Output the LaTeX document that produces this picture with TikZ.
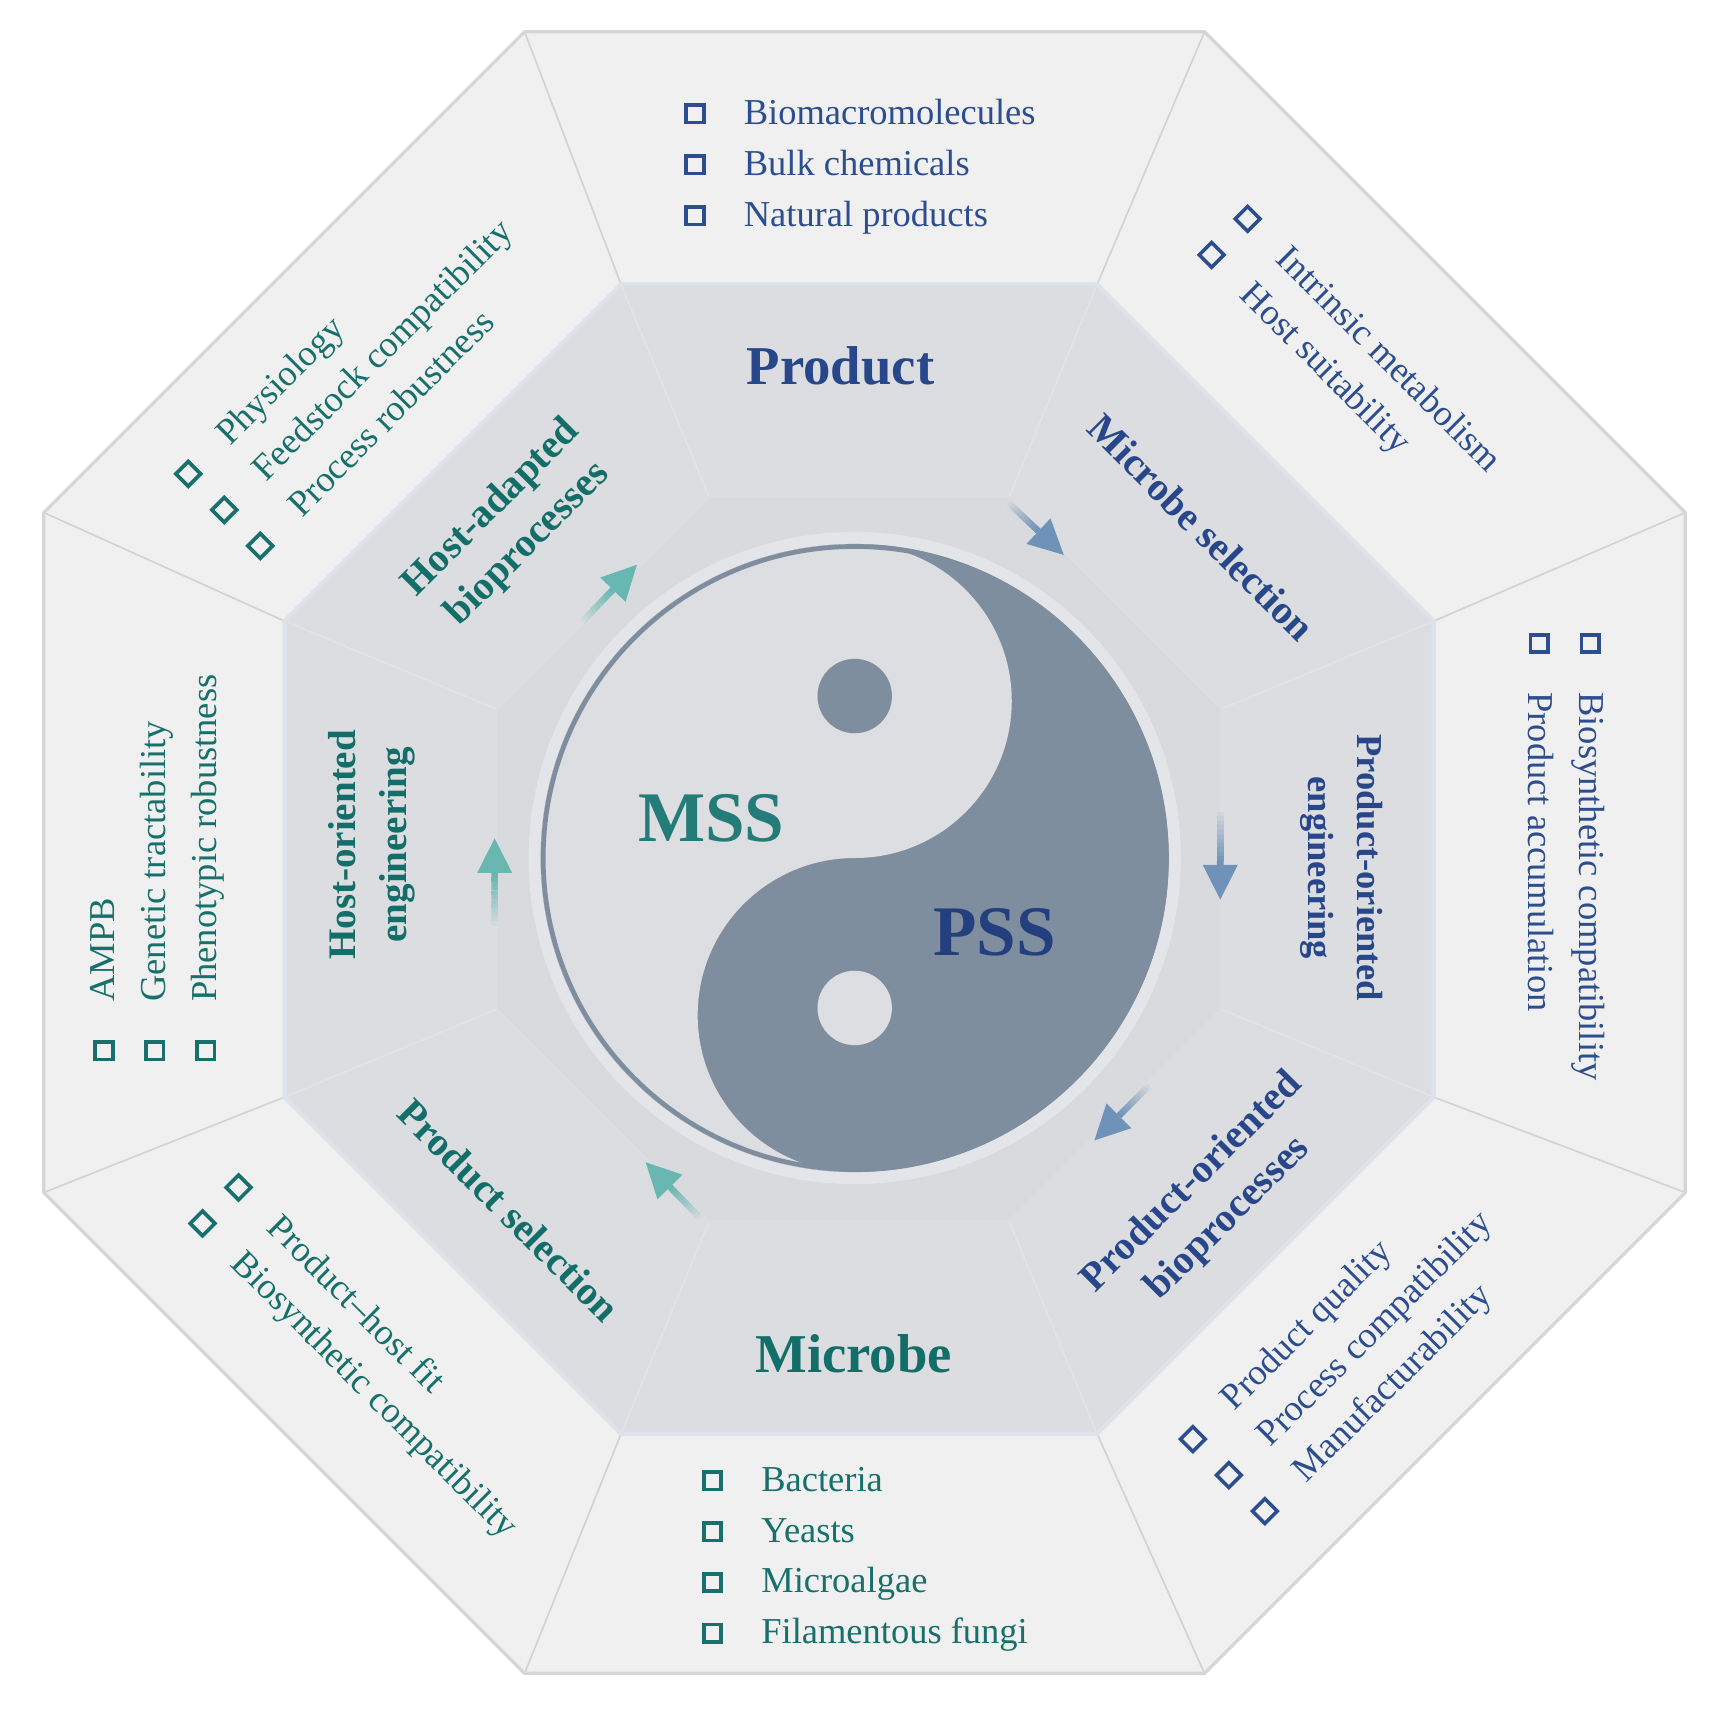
\documentclass[tikz,border=0pt]{standalone}
\usepackage{fontspec}
\setmainfont{Liberation Serif}
\usetikzlibrary{calc}
\definecolor{outerfill}{HTML}{F0F0F0}
\definecolor{outerline}{HTML}{D6D6D6}
\definecolor{divline}{HTML}{D2D2D2}
\definecolor{midfill}{HTML}{DCDDE0}
\definecolor{midline}{HTML}{DEE2EA}
\definecolor{middiv}{HTML}{E2E3E6}
\definecolor{innfill}{HTML}{D8DADD}
\definecolor{innline}{HTML}{DDDEE1}
\definecolor{ringfill}{HTML}{E3E5E8}
\definecolor{yydark}{HTML}{7F8E9F}
\definecolor{yylight}{HTML}{DCDEE1}
\definecolor{navyT}{HTML}{2C4E8E}
\definecolor{navyB}{HTML}{27478A}
\definecolor{tealT}{HTML}{17706B}
\definecolor{tealB}{HTML}{136E69}
\definecolor{mssc}{HTML}{237C78}
\definecolor{pssc}{HTML}{243F7D}
\definecolor{arrblue}{HTML}{6E92B8}
\definecolor{arrteal}{HTML}{68B7B1}

\newcommand\blist[5]{%
\begin{scope}[shift={#2}, rotate=#3, transform shape]
\foreach \itm [count=\ii from 0] in {#5} {
  \node[bulletbox, draw=#4] (#1b\ii) at (0,{\ii*46.5}) {};
  \node[listtext, text=#4] (#1t\ii) at (44,{\ii*46.5+9.5}) {\itm};
}
\end{scope}}

\newcommand\garrow[3]{%
 \coordinate (#1h) at ($(#2)!9.5pt!(#1)$);
 \foreach \k in {0,...,11}{
   \pgfmathsetmacro\op{(\k+1)/12}
   \draw[#3, line width=1.8pt, draw opacity=\op] ($(#1)!{\k/12}!(#1h)$) -- ($(#1)!{(\k+1)/12}!(#1h)$);
 }
 \fill[#3] (#2) -- ($(#1h)!4.8pt!90:(#2)$) -- ($(#1h)!4.8pt!-90:(#2)$) -- cycle;
}

\begin{document}
\begin{tikzpicture}[x=0.3pt,y=-0.3pt,
 bulletbox/.style={draw, rectangle, minimum size=4.8pt, inner sep=0pt, line width=1pt},
 listtext/.style={anchor=base west, inner sep=0pt, font=\fontsize{10}{12}\selectfont},
 sidelabel/.style={align=center, inner sep=0pt, font=\fontsize{11}{14}\selectfont\bfseries},
 biglabel/.style={inner sep=0pt, font=\fontsize{15}{18}\selectfont\bfseries},
 yylabel/.style={inner sep=0pt, font=\fontsize{19.5}{22}\selectfont\bfseries}]

\fill[white] (0,0) rectangle (1568,1568);
\useasboundingbox (0,0) rectangle (1568,1568);

\coordinate (O1) at (790,779);
\coordinate (O2) at (785,785);
\foreach \i in {0,...,7} {
 \coordinate (ov\i) at ($(O1)+({22.5+45*\i}:811.8)$);
 \coordinate (mv\i) at ($(O2)+({22.5+45*\i}:568.3)$);
 \coordinate (iv\i) at ($(O2)+({22.5+45*\i}:358.3)$);
}

% outer ring
\fill[outerfill] (ov0) -- (ov1) -- (ov2) -- (ov3) -- (ov4) -- (ov5) -- (ov6) -- (ov7) -- cycle;
\foreach \i in {0,...,7} \draw[divline, line width=0.45pt] (ov\i) -- (mv\i);
\draw[outerline, line width=0.9pt, line join=round] (ov0) -- (ov1) -- (ov2) -- (ov3) -- (ov4) -- (ov5) -- (ov6) -- (ov7) -- cycle;

% middle ring
\fill[midfill] (mv0) -- (mv1) -- (mv2) -- (mv3) -- (mv4) -- (mv5) -- (mv6) -- (mv7) -- cycle;
\draw[midline, line width=1.2pt, line join=round] (mv0) -- (mv1) -- (mv2) -- (mv3) -- (mv4) -- (mv5) -- (mv6) -- (mv7) -- cycle;
\foreach \i in {0,...,7} \draw[middiv, line width=0.45pt] (mv\i) -- (iv\i);

% inner octagon
\fill[innfill] (iv0) -- (iv1) -- (iv2) -- (iv3) -- (iv4) -- (iv5) -- (iv6) -- (iv7) -- cycle;
\draw[innline, line width=0.5pt, line join=round] (iv0) -- (iv1) -- (iv2) -- (iv3) -- (iv4) -- (iv5) -- (iv6) -- (iv7) -- cycle;

% yin-yang
\coordinate (Y) at (781,784);
\fill[ringfill] (Y) circle[radius=89.4pt];
\fill[yydark] (Y) circle[radius=86.1pt];
\fill[yylight] ($(Y)+(0,-287)$) arc[start angle=90, end angle=270, radius=86.1pt]
  arc[start angle=270, end angle=90, radius=43.05pt]
  arc[start angle=-90, end angle=90, radius=43.05pt] -- cycle;
\draw[yydark, line width=1.3pt] (Y) circle[radius=85.4pt];
\fill[yydark] (781,636) circle[radius=10.2pt];
\fill[yylight] (781,921) circle[radius=10.2pt];

\node[yylabel, text=mssc] (mss) at (650,748) {MSS};
\node[yylabel, text=pssc] (pss) at (909,852) {PSS};

% arrows
\coordinate (a1t) at (922,460); \coordinate (a1p) at (972,507);
\coordinate (a2t) at (1115,742); \coordinate (a2p) at (1115,822);
\coordinate (a3t) at (1050,992); \coordinate (a3p) at (1000,1042);
\coordinate (a4t) at (640,1113); \coordinate (a4p) at (590,1062);
\coordinate (a5t) at (452,846); \coordinate (a5p) at (452,766);
\coordinate (a6t) at (532,568); \coordinate (a6p) at (582,516);
\garrow{a1t}{a1p}{arrblue}
\garrow{a2t}{a2p}{arrblue}
\garrow{a3t}{a3p}{arrblue}
\garrow{a4t}{a4p}{arrteal}
\garrow{a5t}{a5p}{arrteal}
\garrow{a6t}{a6p}{arrteal}

% inner ring labels
\node[biglabel, text=navyB] (lprod) at (768,334) {Product};
\node[biglabel, text=tealB] (lmic) at (780,1237) {Microbe};
\node[sidelabel, text=navyB, rotate=-45] (lmsel) at (1098,482) {Microbe selection};
\node[sidelabel, text=navyB, rotate=-90, font=\fontsize{10}{13.5}\selectfont\bfseries] (lpoe) at (1226,793) {Product-oriented\\engineering};
\node[sidelabel, text=navyB, rotate=45] (lpob) at (1106,1097) {Product-oriented\\bioprocesses};
\node[sidelabel, text=tealB, rotate=-45] (lpsel) at (465,1106) {Product selection};
\node[sidelabel, text=tealB, rotate=90, font=\fontsize{10.7}{14}\selectfont\bfseries] (lhoe) at (340,772) {Host-oriented\\engineering};
\node[sidelabel, text=tealB, rotate=45] (lhab) at (466,481) {Host-adapted\\bioprocesses};

% outer lists
\blist{tp}{(635,104)}{0}{navyT}{Biomacromolecules,Bulk chemicals,Natural products}
\blist{bt}{(651,1353)}{0}{tealT}{Bacteria,Yeasts,Microalgae,Filamentous fungi}
\blist{ul}{(172,433)}{45}{tealT}{Physiology,Feedstock compatibility,Process robustness}
\blist{ur}{(1140,200)}{-45}{navyT}{Intrinsic metabolism,Host suitability}
\blist{rt}{(1453,588)}{-90}{navyT}{Biosynthetic compatibility,Product accumulation}
\blist{lf}{(95,960)}{90}{tealT}{AMPB,Genetic tractability,Phenotypic robustness}
\blist{br}{(1090,1315)}{45}{navyT}{Product quality,Process compatibility,Manufacturability}
\blist{bl}{(218,1085)}{-45}{tealT}{Product–host fit,Biosynthetic compatibility}

\end{tikzpicture}
\end{document}
